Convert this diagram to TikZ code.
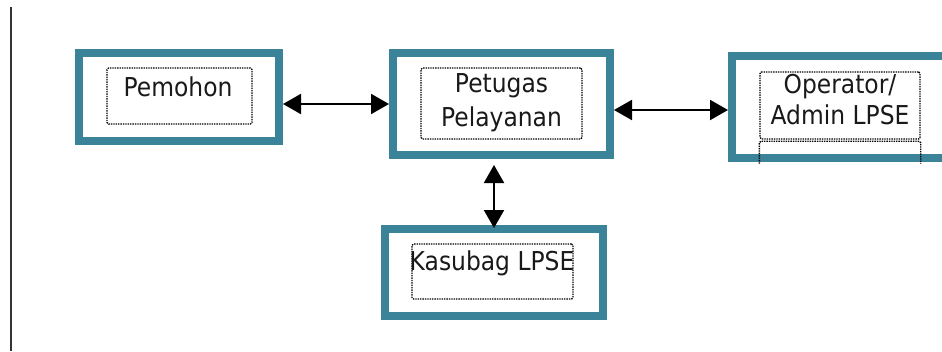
\documentclass[tikz,border=0pt]{standalone}
\usepackage{fontspec}
\newfontfamily\boxfont{DejaVu Sans}[FakeStretch=0.9]
\usetikzlibrary{arrows.meta}
\definecolor{boxteal}{RGB}{58,131,152}
\begin{document}
\begin{tikzpicture}[x=1pt,y=-1pt,
    outerbox/.style={draw=boxteal,line width=8pt,inner sep=0pt},
    dotbox/.style={draw=black,densely dotted,line width=1.4pt,rounded corners=1.5pt,inner sep=0pt},
    boxtext/.style={font=\boxfont\fontsize{26pt}{34pt}\selectfont,text=black!90,align=center,inner sep=0pt},
    link/.style={{Triangle[length=18pt,width=20pt]}-{Triangle[length=18pt,width=20pt]},line width=2pt}]
    \useasboundingbox (0,0) rectangle (942,351);
    \draw[line width=2pt,black!80] (11,7) -- (11,351);
    % outer frames
    \node[outerbox,minimum width=200pt,minimum height=88pt] (pemohon) at (179,97) {};
    \node[outerbox,minimum width=217pt,minimum height=102pt] (petugas) at (501.5,104) {};
    \node[outerbox,minimum width=216pt,minimum height=102pt] (operator) at (840,107) {};
    \node[outerbox,minimum width=218pt,minimum height=87pt] (kasubag) at (494,272.5) {};
    % dotted frames
    \node[dotbox,minimum width=145pt,minimum height=56pt] (pemohon-in) at (179.5,96) {};
    \node[dotbox,minimum width=161pt,minimum height=71pt] (petugas-in) at (501.5,103.5) {};
    \node[dotbox,minimum width=160pt,minimum height=67pt] (operator-in) at (840,105.5) {};
    \node[dotbox,minimum width=161pt,minimum height=55pt] (kasubag-in) at (492.5,271.5) {};
    \draw[dotbox] ([yshift=-24pt]operator-in.south west) -- ([yshift=-1.5pt]operator-in.south west)
        -- ([yshift=-1.5pt]operator-in.south east) -- ([yshift=-24pt]operator-in.south east);
    % labels
    \node[boxtext,anchor=base] (pemohon-txt) at (178,96) {Pemohon};
    \node[boxtext] (petugas-txt) at (501.5,103) {Petugas\\Pelayanan};
    \node[boxtext] (operator-txt) at (840,100) {Operator/\\[-3pt]Admin LPSE};
    \node[boxtext,anchor=base] (kasubag-txt) at (492,270) {Kasubag LPSE};
    % connectors
    \draw[link] (pemohon.east |- petugas.west) -- (petugas.west);
    \draw[link] ([yshift=-6pt]petugas.east) -- ([yshift=-6pt]petugas.east -| operator.west);
    \draw[link,shorten <=-3pt,shorten >=6pt] (kasubag.north) -- (kasubag.north |- petugas.south);
\end{tikzpicture}
\end{document}
